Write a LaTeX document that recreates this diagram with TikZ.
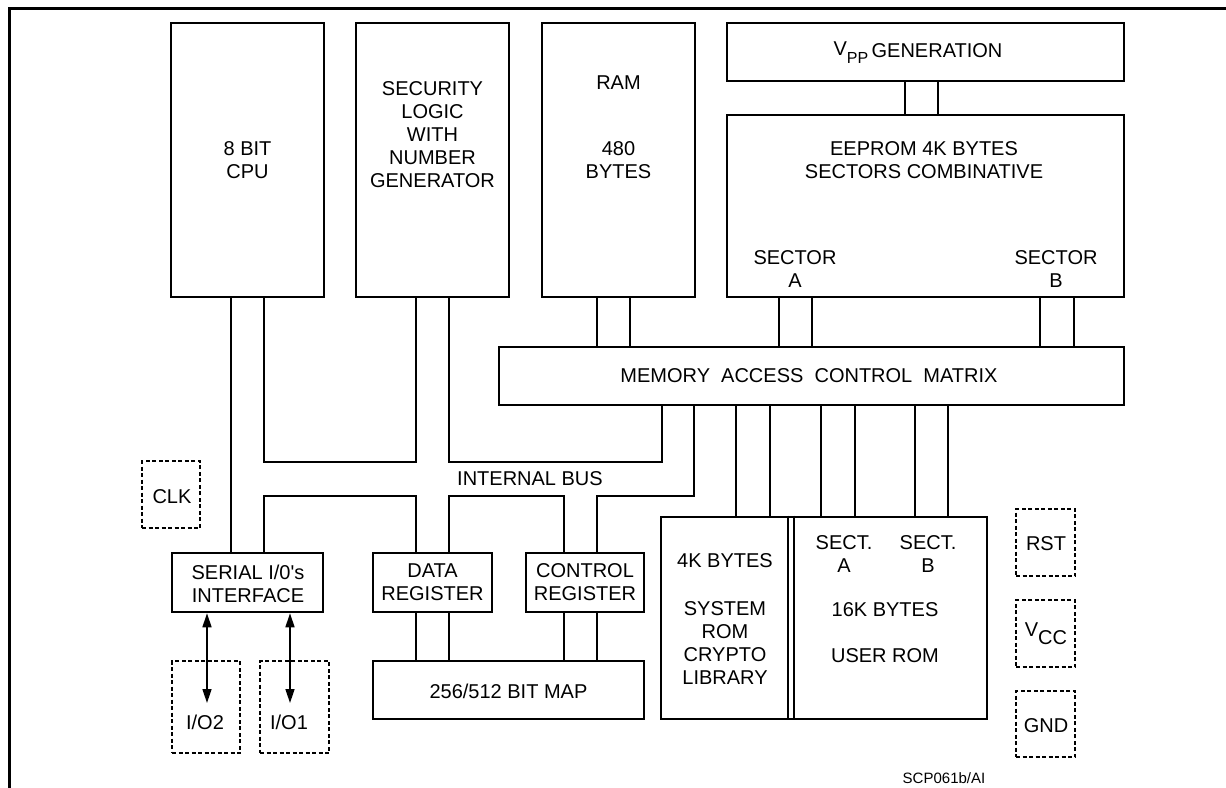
\documentclass[tikz,border=0pt]{standalone}
\usepackage{fontspec}
\setmainfont{Liberation Sans}
\usetikzlibrary{fit,arrows.meta}
\begin{document}
\begin{tikzpicture}[x=1pt,y=-1pt,
  blk/.style={draw, line width=2.6pt, inner sep=0pt},
  padbox/.style={draw, line width=1.8pt, dash pattern=on 4pt off 2.5pt, inner sep=0pt},
  wire/.style={line width=1.6pt},
  txt/.style={font=\fontsize{20}{23}\selectfont, align=center, inner sep=0pt},
  ioarrow/.style={line width=1.6pt, {Triangle[length=14pt,width=9pt]}-{Triangle[length=14pt,width=9pt]}}]
\useasboundingbox (0,0) rectangle (1226,787);
% frame
\draw[line width=3pt] (9,790) -- (9,8) -- (1230,8);
% blocks
\node[blk, fit={(171,23) (324,297)}] (cpu) {};
\node[blk, fit={(356,23) (509,297)}] (sec) {};
\node[blk, fit={(542,23) (695,297)}] (ram) {};
\node[blk, fit={(727,23) (1124,81)}] (vpp) {};
\node[blk, fit={(727,115) (1124,297)}] (eep) {};
\node[blk, fit={(499,347) (1124,405)}] (macm) {};
\node[blk, fit={(172,553) (323,612)}] (serial) {};
\node[blk, fit={(373,553) (492,612)}] (data) {};
\node[blk, fit={(526,553) (644,612)}] (ctrl) {};
\node[blk, fit={(373,661) (644,719)}] (bitmap) {};
\node[blk, fit={(661,517) (987,719)}] (rom) {};
% pads
\node[padbox, fit={(142,461) (200,528)}] (clk) {};
\node[padbox, fit={(172,661) (240,753)}] (io2) {};
\node[padbox, fit={(260,661) (329,753)}] (io1) {};
\node[padbox, fit={(1016,509) (1075,576)}] (rst) {};
\node[padbox, fit={(1016,600) (1075,667)}] (vcc) {};
\node[padbox, fit={(1016,691) (1075,757)}] (gnd) {};
% texts
\node[txt] (cpuT) at (247.5,160.5) {8 BIT\\CPU};
\node[txt] (secT) at (432.5,134.5) {SECURITY\\LOGIC\\WITH\\NUMBER\\GENERATOR};
\node[txt] (ramT) at (618.5,83) {RAM};
\node[txt] (ramT2) at (618.5,160.5) {480\\BYTES};
\node[txt] (vppT) at (918,53) {\raisebox{2pt}{V}\raisebox{-6pt}{\fontsize{16}{16}\selectfont PP}\,GENERATION};
\node[txt] (eepT) at (924,160.5) {EEPROM 4K BYTES\\SECTORS COMBINATIVE};
\node[txt] (secA) at (795,269) {SECTOR\\A};
\node[txt] (secB) at (1056,269) {SECTOR\\B};
\node[txt] (macmT) at (809,376) {MEMORY\ \ ACCESS\ \ CONTROL\ \ MATRIX};
\node[txt] (busT) at (530,479) {INTERNAL BUS};
\node[txt] (serT) at (248,583.5) {SERIAL I/0\textquotesingle s\\INTERFACE};
\node[txt] (dataT) at (432.5,582.5) {DATA\\REGISTER};
\node[txt] (ctrlT) at (585,582.5) {CONTROL\\REGISTER};
\node[txt] (bitT) at (508.5,691) {256/512 BIT MAP};
\node[txt] (romT1) at (725,561) {4K BYTES};
\node[txt] (romT2) at (725,643) {SYSTEM\\ROM\\CRYPTO\\LIBRARY};
\node[txt] (sectA) at (844,554.5) {SECT.\\A};
\node[txt] (sectB) at (928,554.5) {SECT.\\B};
\node[txt] (userT) at (885,633) {16K BYTES\\[23pt]USER ROM};
\node[txt] (clkT) at (172,497) {CLK};
\node[txt] (io2T) at (205,722) {I/O2};
\node[txt] (io1T) at (289,722) {I/O1};
\node[txt] (rstT) at (1046,544) {RST};
\node[txt] (vccT) at (1046,634) {\raisebox{3pt}{V}\raisebox{-5pt}{CC}};
\node[txt] (gndT) at (1046,726) {GND};
\node[font=\fontsize{15}{15}\selectfont, inner sep=0pt, anchor=base] (scp) at (944,783) {SCP061b/AI};
% ROM divider
\draw[wire] (788,0 |- rom.north) -- (788,0 |- rom.south);
\draw[wire] (794,0 |- rom.north) -- (794,0 |- rom.south);
% connectors
\draw[wire] (231,0 |- cpu.south) -- (231,0 |- serial.north);
\draw[wire] (264,0 |- cpu.south) -- (264,462) -- (416,462) -- (416,0 |- sec.south);
\draw[wire] (449,0 |- sec.south) -- (449,462) -- (662,462) -- (662,0 |- macm.south);
\foreach \xx in {597,630} \draw[wire] (\xx,0 |- ram.south) -- (\xx,0 |- macm.north);
\foreach \xx in {905,938} \draw[wire] (\xx,0 |- vpp.south) -- (\xx,0 |- eep.north);
\foreach \xx in {779,812,1040,1074} \draw[wire] (\xx,0 |- eep.south) -- (\xx,0 |- macm.north);
\foreach \xx in {736,770,821,855,915,948} \draw[wire] (\xx,0 |- macm.south) -- (\xx,0 |- rom.north);
\draw[wire] (264,0 |- serial.north) -- (264,496) -- (416,496) -- (416,0 |- data.north);
\draw[wire] (449,0 |- data.north) -- (449,496) -- (564,496) -- (564,0 |- ctrl.north);
\draw[wire] (597,0 |- ctrl.north) -- (597,496) -- (694,496) -- (694,0 |- macm.south);
\foreach \xx in {416,449} \draw[wire] (\xx,0 |- data.south) -- (\xx,0 |- bitmap.north);
\foreach \xx in {564,597} \draw[wire] (\xx,0 |- ctrl.south) -- (\xx,0 |- bitmap.north);
% I/O arrows
\coordinate (io2e) at (207,703);
\coordinate (io1e) at (290,703);
\draw[ioarrow] (207,0 |- serial.south) -- (io2e);
\draw[ioarrow] (290,0 |- serial.south) -- (io1e);
\end{tikzpicture}
\end{document}
